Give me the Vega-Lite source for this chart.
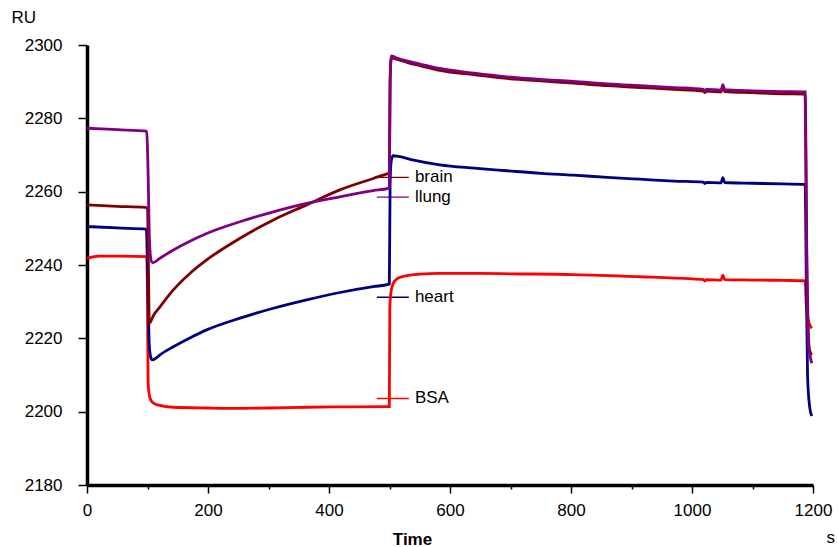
{
  "$schema": "https://vega.github.io/schema/vega-lite/v6.json",
  "width": 726,
  "height": 440,
  "autosize": "none",
  "padding": {"left": 87, "top": 45, "right": 25, "bottom": 62},
  "background": "white",
  "config": {
    "view": {"stroke": null},
    "font": "Liberation Sans",
    "axis": {
      "labelFont": "Liberation Sans", "labelFontSize": 17, "labelColor": "#000",
      "titleFont": "Liberation Sans", "titleFontSize": 17, "titleColor": "#000",
      "domainColor": "#000", "domainWidth": 3.5, "tickColor": "#000", "tickWidth": 1.5,
      "grid": false, "labelFlush": false, "labelOverlap": false
    }
  },
  "title": {"text": "s", "orient": "bottom", "anchor": "end", "frame": "group", "dx": 22, "dy": -21, "fontSize": 17, "fontWeight": "normal", "font": "Liberation Sans", "color": "#000"},
  "datasets": {
    "curves": [
      {"s":"BSA","t":0,"v":2241.8},{"s":"BSA","t":20,"v":2242.4},{"s":"BSA","t":60,"v":2242.4},{"s":"BSA","t":99,"v":2242.3},
      {"s":"BSA","t":100,"v":2230},{"s":"BSA","t":101,"v":2208},{"s":"BSA","t":103,"v":2204.5},{"s":"BSA","t":106,"v":2203},
      {"s":"BSA","t":110,"v":2202.3},{"s":"BSA","t":120,"v":2201.7},{"s":"BSA","t":142.7,"v":2201.2},{"s":"BSA","t":200,"v":2201.0},
      {"s":"BSA","t":253,"v":2200.9},{"s":"BSA","t":300,"v":2201.0},{"s":"BSA","t":363,"v":2201.2},{"s":"BSA","t":420,"v":2201.3},
      {"s":"BSA","t":495,"v":2201.4},{"s":"BSA","t":499.7,"v":2201.4},{"s":"BSA","t":500.5,"v":2228},{"s":"BSA","t":502,"v":2232},
      {"s":"BSA","t":505,"v":2234.5},{"s":"BSA","t":512,"v":2236.2},{"s":"BSA","t":525,"v":2237.0},{"s":"BSA","t":550,"v":2237.5},
      {"s":"BSA","t":583,"v":2237.7},{"s":"BSA","t":650,"v":2237.7},{"s":"BSA","t":700,"v":2237.6},{"s":"BSA","t":804,"v":2237.4},
      {"s":"BSA","t":914,"v":2236.8},{"s":"BSA","t":1000,"v":2236.2},{"s":"BSA","t":1019,"v":2236.0},{"s":"BSA","t":1021,"v":2235.6},
      {"s":"BSA","t":1024,"v":2236.0},{"s":"BSA","t":1048,"v":2235.9},{"s":"BSA","t":1051,"v":2237.2},{"s":"BSA","t":1054,"v":2236.0},
      {"s":"BSA","t":1100,"v":2235.9},{"s":"BSA","t":1150,"v":2235.8},{"s":"BSA","t":1187,"v":2235.7},{"s":"BSA","t":1189,"v":2229},
      {"s":"BSA","t":1192,"v":2225},{"s":"BSA","t":1198,"v":2222.7},

      {"s":"heart","t":0,"v":2250.5},{"s":"heart","t":50,"v":2250.1},{"s":"heart","t":98,"v":2249.8},{"s":"heart","t":100.5,"v":2235},
      {"s":"heart","t":103,"v":2218},{"s":"heart","t":106,"v":2214.5},{"s":"heart","t":108.6,"v":2214.1},{"s":"heart","t":114,"v":2214.6},
      {"s":"heart","t":120.7,"v":2215.5},{"s":"heart","t":142.7,"v":2217.7},{"s":"heart","t":170,"v":2220.1},{"s":"heart","t":197.8,"v":2222.3},
      {"s":"heart","t":252.9,"v":2225.5},{"s":"heart","t":308,"v":2228.2},{"s":"heart","t":363,"v":2230.5},{"s":"heart","t":418,"v":2232.5},
      {"s":"heart","t":473,"v":2234.1},{"s":"heart","t":498,"v":2234.7},{"s":"heart","t":499.7,"v":2234.8},{"s":"heart","t":501,"v":2262},
      {"s":"heart","t":503,"v":2268.5},{"s":"heart","t":506,"v":2269.8},{"s":"heart","t":515,"v":2269.6},{"s":"heart","t":540,"v":2268.6},
      {"s":"heart","t":583,"v":2267.3},{"s":"heart","t":640,"v":2266.4},{"s":"heart","t":694,"v":2265.7},{"s":"heart","t":750,"v":2265.0},
      {"s":"heart","t":804,"v":2264.5},{"s":"heart","t":860,"v":2263.9},{"s":"heart","t":914,"v":2263.4},{"s":"heart","t":970,"v":2262.9},
      {"s":"heart","t":1019,"v":2262.6},{"s":"heart","t":1021,"v":2262.2},{"s":"heart","t":1024,"v":2262.5},{"s":"heart","t":1048,"v":2262.4},
      {"s":"heart","t":1051,"v":2263.8},{"s":"heart","t":1054,"v":2262.5},{"s":"heart","t":1100,"v":2262.3},{"s":"heart","t":1150,"v":2262.1},
      {"s":"heart","t":1187,"v":2262.0},{"s":"heart","t":1189,"v":2235},{"s":"heart","t":1191,"v":2210},{"s":"heart","t":1194,"v":2202},
      {"s":"heart","t":1198,"v":2198.8},

      {"s":"brain","t":0,"v":2256.4},{"s":"brain","t":50,"v":2256.0},{"s":"brain","t":96,"v":2255.7},{"s":"brain","t":100,"v":2255.6},
      {"s":"brain","t":101.5,"v":2240},{"s":"brain","t":103,"v":2224.1},{"s":"brain","t":110,"v":2226.3},{"s":"brain","t":120.7,"v":2228.6},
      {"s":"brain","t":142.7,"v":2233.2},{"s":"brain","t":170,"v":2237.7},{"s":"brain","t":197.8,"v":2241.4},{"s":"brain","t":252.9,"v":2247.3},
      {"s":"brain","t":308,"v":2252.3},{"s":"brain","t":363,"v":2256.4},{"s":"brain","t":418,"v":2260.5},{"s":"brain","t":473,"v":2263.6},
      {"s":"brain","t":498,"v":2265.0},{"s":"brain","t":499.7,"v":2265.1},{"s":"brain","t":501,"v":2290},{"s":"brain","t":503,"v":2296.5},
      {"s":"brain","t":510,"v":2296.2},{"s":"brain","t":530,"v":2295.2},{"s":"brain","t":550,"v":2294.4},{"s":"brain","t":583,"v":2293.1},
      {"s":"brain","t":640,"v":2291.9},{"s":"brain","t":694,"v":2290.9},{"s":"brain","t":750,"v":2290.2},{"s":"brain","t":804,"v":2289.6},
      {"s":"brain","t":860,"v":2288.9},{"s":"brain","t":914,"v":2288.4},{"s":"brain","t":970,"v":2287.9},{"s":"brain","t":1019,"v":2287.4},
      {"s":"brain","t":1021,"v":2287.0},{"s":"brain","t":1024,"v":2287.4},{"s":"brain","t":1048,"v":2287.2},{"s":"brain","t":1051,"v":2288.6},
      {"s":"brain","t":1054,"v":2287.3},{"s":"brain","t":1100,"v":2287.0},{"s":"brain","t":1150,"v":2286.7},{"s":"brain","t":1187,"v":2286.6},
      {"s":"brain","t":1190,"v":2240},{"s":"brain","t":1194,"v":2217},{"s":"brain","t":1198,"v":2215.5},

      {"s":"lung","t":0,"v":2277.3},{"s":"lung","t":50,"v":2276.9},{"s":"lung","t":98.6,"v":2276.5},{"s":"lung","t":101,"v":2265},
      {"s":"lung","t":103,"v":2248},{"s":"lung","t":106,"v":2241.2},{"s":"lung","t":108.6,"v":2240.6},{"s":"lung","t":120,"v":2241.8},
      {"s":"lung","t":142.7,"v":2244.1},{"s":"lung","t":170,"v":2246.5},{"s":"lung","t":197.8,"v":2248.6},{"s":"lung","t":252.9,"v":2251.8},
      {"s":"lung","t":308,"v":2254.5},{"s":"lung","t":363,"v":2256.8},{"s":"lung","t":418,"v":2258.6},{"s":"lung","t":473,"v":2260.3},
      {"s":"lung","t":498,"v":2260.9},{"s":"lung","t":499.7,"v":2261.2},{"s":"lung","t":501,"v":2290},{"s":"lung","t":503,"v":2297},
      {"s":"lung","t":510,"v":2296.6},{"s":"lung","t":530,"v":2295.6},{"s":"lung","t":550,"v":2294.8},{"s":"lung","t":583,"v":2293.6},
      {"s":"lung","t":640,"v":2292.3},{"s":"lung","t":694,"v":2291.3},{"s":"lung","t":750,"v":2290.6},{"s":"lung","t":804,"v":2290.1},
      {"s":"lung","t":860,"v":2289.4},{"s":"lung","t":914,"v":2288.9},{"s":"lung","t":970,"v":2288.4},{"s":"lung","t":1019,"v":2287.9},
      {"s":"lung","t":1021,"v":2287.5},{"s":"lung","t":1024,"v":2287.9},{"s":"lung","t":1048,"v":2287.7},{"s":"lung","t":1051,"v":2289.2},
      {"s":"lung","t":1054,"v":2287.8},{"s":"lung","t":1100,"v":2287.5},{"s":"lung","t":1150,"v":2287.3},{"s":"lung","t":1187,"v":2287.2},
      {"s":"lung","t":1189,"v":2250},{"s":"lung","t":1192,"v":2220},{"s":"lung","t":1196,"v":2214.5},{"s":"lung","t":1198,"v":2213.2}
    ],
    "labels": [
      {"s":"brain","label":"brain","t1":479,"t2":532,"tx":542,"v":2263.9},
      {"s":"lung","label":"llung","t1":479,"t2":532,"tx":542,"v":2258.5},
      {"s":"heart","label":"heart","t1":479,"t2":532,"tx":542,"v":2231.2},
      {"s":"BSA","label":"BSA","t1":479,"t2":532,"tx":542,"v":2203.6}
    ]
  },
  "layer": [
    {
      "data": {"name": "labels"},
      "mark": {"type": "rule", "strokeWidth": 1.4},
      "encoding": {
        "x": {"field": "t1", "type": "quantitative"},
        "x2": {"field": "t2"},
        "y": {"field": "v", "type": "quantitative"},
        "color": {"field": "s", "type": "nominal", "legend": null}
      }
    },
    {
      "data": {"name": "curves"},
      "mark": {"type": "line", "strokeWidth": 2.8, "interpolate": "monotone"},
      "encoding": {
        "x": {"field": "t", "type": "quantitative",
          "scale": {"domain": [0, 1200], "nice": false, "zero": false},
          "axis": {
            "values": [0,100,200,300,400,500,600,700,800,900,1000,1100,1200],
            "format": "d",
            "labelExpr": "datum.value % 200 === 0 ? datum.label : ''",
            "tickSize": {"condition": {"test": "datum.value % 200 !== 0", "value": 4}, "value": 8},
            "labelPadding": 9,
            "title": "Time", "titleFontWeight": "bold",
            "titleX": 325, "titleY": 59, "titleAlign": "center", "titleBaseline": "alphabetic"
          }
        },
        "y": {"field": "v", "type": "quantitative",
          "scale": {"domain": [2180, 2300], "nice": false, "zero": false},
          "axis": {
            "values": [2180,2190,2200,2210,2220,2230,2240,2250,2260,2270,2280,2290,2300],
            "format": "d",
            "labelExpr": "datum.value % 20 === 0 ? datum.label : ''",
            "tickSize": {"condition": {"test": "datum.value % 20 !== 0", "value": 4}, "value": 9},
            "labelPadding": 16,
            "title": "RU", "titleFontWeight": "normal", "titleAngle": 0,
            "titleX": -76, "titleY": -23, "titleAlign": "left", "titleBaseline": "alphabetic"
          }
        },
        "color": {"field": "s", "type": "nominal", "legend": null,
          "scale": {"domain": ["BSA", "heart", "brain", "lung"], "range": ["#ff0000", "#000080", "#800000", "#800080"]}
        }
      }
    },
    {
      "data": {"name": "labels"},
      "mark": {"type": "text", "align": "left", "baseline": "middle", "fontSize": 17, "font": "Liberation Sans", "color": "#000"},
      "encoding": {
        "x": {"field": "tx", "type": "quantitative"},
        "y": {"field": "v", "type": "quantitative"},
        "text": {"field": "label"}
      }
    }
  ]
}
